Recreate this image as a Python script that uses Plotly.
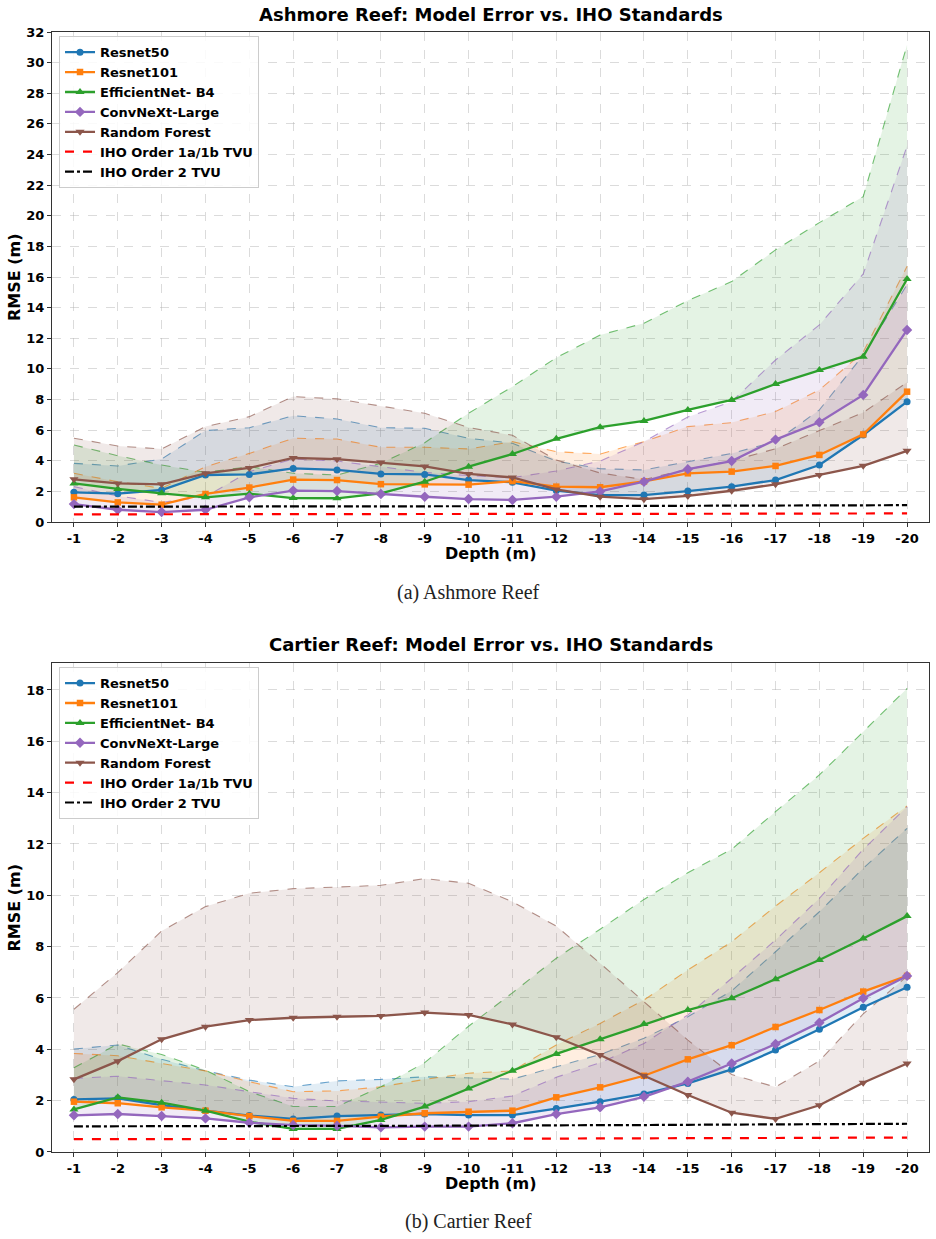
import plotly.graph_objects as go

# ---------------- data ----------------
depths = [-1, -2, -3, -4, -5, -6, -7, -8, -9, -10,
          -11, -12, -13, -14, -15, -16, -17, -18, -19, -20]
depth_labels = ["-1", "-2", "-3", "-4", "-5", "-6", "-7", "-8", "-9", "-10",
                "-11", "-12", "-13", "-14", "-15", "-16", "-17", "-18", "-19", "-20"]

models = ["Resnet50", "Resnet101", "EfficientNet- B4", "ConvNeXt-Large", "Random Forest"]

# Ashmore Reef (RMSE and upper bound of shaded band)
ash_resnet50 = [1.94, 1.85, 2.09, 3.07, 3.11, 3.50, 3.40, 3.14, 3.11, 2.74, 2.59, 2.05, 1.76, 1.76, 2.02, 2.31, 2.74, 3.72, 5.68, 7.86]
ash_resnet50_up = [3.83, 3.66, 4.11, 5.97, 6.16, 6.94, 6.73, 6.16, 6.12, 5.47, 5.14, 3.98, 3.48, 3.40, 3.94, 4.48, 5.25, 7.32, 10.9, 15.5]
ash_resnet101 = [1.61, 1.28, 1.13, 1.83, 2.25, 2.77, 2.74, 2.47, 2.46, 2.44, 2.67, 2.31, 2.27, 2.65, 3.18, 3.29, 3.66, 4.38, 5.72, 8.51]
ash_resnet101_up = [3.18, 2.63, 2.20, 3.61, 4.48, 5.47, 5.42, 4.88, 4.88, 4.77, 5.25, 4.59, 4.44, 5.25, 6.23, 6.49, 7.21, 8.62, 11.1, 16.7]
ash_effnet = [2.52, 2.16, 1.87, 1.61, 1.85, 1.56, 1.55, 1.87, 2.63, 3.61, 4.44, 5.43, 6.19, 6.60, 7.32, 7.97, 9.01, 9.93, 10.80, 15.87]
ash_effnet_up = [5.03, 4.33, 3.72, 3.24, 3.61, 3.18, 3.07, 3.83, 5.18, 7.10, 8.84, 10.73, 12.21, 12.98, 14.46, 15.70, 17.77, 19.55, 21.25, 31.16]
ash_convnext = [1.17, 0.80, 0.65, 0.80, 1.61, 2.05, 2.02, 1.83, 1.65, 1.50, 1.44, 1.65, 2.00, 2.63, 3.45, 3.98, 5.38, 6.51, 8.30, 12.54]
ash_convnext_up = [2.31, 1.70, 1.28, 1.65, 3.29, 4.11, 3.98, 3.61, 3.24, 3.03, 2.90, 3.33, 3.98, 5.25, 6.86, 7.86, 10.58, 12.87, 16.2, 24.56]
ash_rf = [2.79, 2.52, 2.46, 3.18, 3.53, 4.18, 4.10, 3.88, 3.63, 3.14, 2.91, 2.13, 1.65, 1.49, 1.70, 2.04, 2.46, 3.07, 3.67, 4.65]
ash_rf_up = [5.47, 4.96, 4.77, 6.23, 6.88, 8.19, 8.04, 7.59, 7.10, 6.17, 5.66, 4.05, 3.20, 2.77, 3.45, 4.00, 4.78, 5.97, 7.15, 9.12]

# Cartier Reef
car_resnet50 = [2.05, 2.09, 1.83, 1.61, 1.42, 1.29, 1.40, 1.44, 1.48, 1.44, 1.44, 1.69, 1.96, 2.26, 2.67, 3.22, 3.97, 4.78, 5.64, 6.42]
car_resnet50_up = [4.01, 4.17, 3.61, 3.16, 2.80, 2.54, 2.77, 2.83, 2.93, 2.89, 2.84, 3.32, 3.80, 4.43, 5.27, 6.28, 7.80, 9.36, 11.05, 12.61]
car_resnet101 = [1.96, 1.90, 1.74, 1.61, 1.40, 1.21, 1.21, 1.38, 1.51, 1.57, 1.61, 2.13, 2.52, 2.97, 3.61, 4.16, 4.87, 5.53, 6.25, 6.86]
car_resnet101_up = [3.84, 3.75, 3.45, 3.16, 2.74, 2.35, 2.38, 2.54, 2.83, 3.07, 3.16, 4.17, 5.01, 5.92, 7.09, 8.19, 9.58, 10.88, 12.22, 13.48]
car_effnet = [1.66, 2.13, 1.92, 1.61, 1.18, 0.90, 0.90, 1.25, 1.77, 2.47, 3.17, 3.82, 4.39, 4.99, 5.53, 5.99, 6.73, 7.48, 8.32, 9.19]
car_effnet_up = [3.28, 4.21, 3.80, 3.19, 2.35, 1.77, 1.77, 2.54, 3.48, 4.90, 6.20, 7.55, 8.68, 9.84, 10.88, 11.79, 13.26, 14.69, 16.37, 18.06]
car_convnext = [1.43, 1.48, 1.40, 1.31, 1.14, 1.05, 1.02, 0.96, 0.99, 0.99, 1.12, 1.48, 1.74, 2.15, 2.74, 3.45, 4.21, 5.04, 5.99, 6.86]
car_convnext_up = [2.87, 2.95, 2.78, 2.61, 2.35, 2.09, 1.99, 1.94, 1.90, 1.96, 2.18, 2.91, 3.48, 4.23, 5.34, 6.77, 8.26, 9.88, 11.79, 13.45]
car_rf = [2.83, 3.54, 4.39, 4.88, 5.14, 5.23, 5.27, 5.30, 5.43, 5.34, 4.97, 4.47, 3.78, 2.97, 2.22, 1.53, 1.29, 1.82, 2.70, 3.45]
car_rf_up = [5.56, 6.99, 8.61, 9.56, 10.08, 10.26, 10.32, 10.39, 10.65, 10.47, 9.75, 8.80, 7.35, 5.86, 4.36, 3.02, 2.53, 3.55, 5.38, 6.85]

# IHO total vertical uncertainty thresholds
iho_order1 = [0.50, 0.50, 0.50, 0.50, 0.50, 0.51, 0.51, 0.51, 0.51, 0.52,
              0.52, 0.52, 0.53, 0.53, 0.54, 0.54, 0.55, 0.55, 0.56, 0.56]
iho_order2 = [1.00, 1.00, 1.00, 1.00, 1.01, 1.01, 1.01, 1.02, 1.02, 1.03,
              1.03, 1.04, 1.04, 1.05, 1.06, 1.07, 1.07, 1.08, 1.09, 1.10]

# ---------------- styles ----------------
colors = [(31, 119, 180), (255, 127, 14), (44, 160, 44), (148, 103, 189), (140, 86, 75)]
symbols = ["circle", "square", "triangle-up", "diamond", "triangle-down"]
msizes = [7, 6.5, 8, 8, 8]

FONT = "DejaVu Sans"


def rgba(c, a):
    return "rgba(%d,%d,%d,%.3f)" % (c[0], c[1], c[2], a)


fig = go.Figure()


def add_panel(xa, ya, legend, means, ups):
    # shaded bands (line -> upper bound) with dashed upper edge
    for i in range(len(models)):
        fig.add_trace(go.Scatter(x=depths, y=means[i], mode="lines",
                                 line=dict(width=0, color=rgba(colors[i], 0)),
                                 showlegend=False, hoverinfo="skip", legend=legend,
                                 xaxis=xa, yaxis=ya))
        fig.add_trace(go.Scatter(x=depths, y=ups[i], mode="lines",
                                 line=dict(width=1.1, color=rgba(colors[i], 0.65), dash="dash"),
                                 fill="tonexty", fillcolor=rgba(colors[i], 0.13),
                                 showlegend=False, hoverinfo="skip", legend=legend,
                                 xaxis=xa, yaxis=ya))
    for i in range(len(models)):
        fig.add_trace(go.Scatter(x=depths, y=means[i], mode="lines+markers", name=models[i],
                                 line=dict(width=2.3, color=rgba(colors[i], 1)),
                                 marker=dict(symbol=symbols[i], size=msizes[i], color=rgba(colors[i], 1)),
                                 legend=legend, xaxis=xa, yaxis=ya))
    fig.add_trace(go.Scatter(x=depths, y=iho_order1, mode="lines", name="IHO Order 1a/1b TVU",
                             line=dict(width=2.2, color="#ff0000", dash="dash"),
                             legend=legend, xaxis=xa, yaxis=ya))
    fig.add_trace(go.Scatter(x=depths, y=iho_order2, mode="lines", name="IHO Order 2 TVU",
                             line=dict(width=2.2, color="black", dash="dashdot"),
                             legend=legend, xaxis=xa, yaxis=ya))


add_panel("x", "y", "legend",
          [ash_resnet50, ash_resnet101, ash_effnet, ash_convnext, ash_rf],
          [ash_resnet50_up, ash_resnet101_up, ash_effnet_up, ash_convnext_up, ash_rf_up])
add_panel("x2", "y2", "legend2",
          [car_resnet50, car_resnet101, car_effnet, car_convnext, car_rf],
          [car_resnet50_up, car_resnet101_up, car_effnet_up, car_convnext_up, car_rf_up])

tickfont = dict(family=FONT, size=13, color="black", weight="bold")
xcommon = dict(range=[-0.5, -20.5], tickmode="array", tickvals=depths, ticktext=depth_labels,
               showgrid=True, gridcolor="rgba(176,176,176,0.45)", griddash="dash", gridwidth=1,
               showline=True, mirror=True, linecolor="#333", linewidth=1.2,
               ticks="outside", ticklen=4, tickcolor="#333", tickfont=tickfont, zeroline=False)
ycommon = dict(showgrid=True, gridcolor="rgba(176,176,176,0.45)", griddash="dash", gridwidth=1,
               showline=True, mirror=True, linecolor="#333", linewidth=1.2,
               ticks="outside", ticklen=4, tickcolor="#333", tickfont=tickfont, zeroline=False,
               dtick=2, tick0=0)

legend_common = dict(xanchor="left", yanchor="top", bgcolor="rgba(255,255,255,0.85)",
                     bordercolor="#cccccc", borderwidth=1, traceorder="normal",
                     font=dict(family=FONT, size=13, color="black", weight="bold"),
                     tracegroupgap=0, itemwidth=30)

fig.update_layout(
    width=936, height=1239,
    margin=dict(l=52, r=7, t=32, b=87),
    paper_bgcolor="white", plot_bgcolor="white",
    xaxis=dict(domain=[0, 1], anchor="y", **xcommon),
    yaxis=dict(domain=[0.5625, 1.0], anchor="x", range=[0, 32], **ycommon),
    xaxis2=dict(domain=[0, 1], anchor="y2", **xcommon),
    yaxis2=dict(domain=[0, 0.4366], anchor="x2", range=[0, 19.05], **ycommon),
    legend=dict(x=0.008, y=0.9962, **legend_common),
    legend2=dict(x=0.008, y=0.4329, **legend_common),
    showlegend=True,
)


def py(ypix):
    return (1152 - ypix) / 1120.0


def px(xpix):
    return (xpix - 52) / 877.0


ann = []
titles = [("Ashmore Reef: Model Error vs. IHO Standards", 14),
          ("Cartier Reef: Model Error vs. IHO Standards", 645)]
for t, yp in titles:
    ann.append(dict(text="<b>%s</b>" % t, x=px(490.5), y=py(yp), xref="paper", yref="paper",
                    xanchor="center", yanchor="middle", showarrow=False,
                    font=dict(family=FONT, size=18, color="black")))
for yp in (553, 1183):
    ann.append(dict(text="<b>Depth (m)</b>", x=px(490.5), y=py(yp), xref="paper", yref="paper",
                    xanchor="center", yanchor="middle", showarrow=False,
                    font=dict(family=FONT, size=16, color="black")))
for yp in (277, 907.5):
    ann.append(dict(text="<b>RMSE (m)</b>", x=px(14), y=py(yp), xref="paper", yref="paper",
                    xanchor="center", yanchor="middle", showarrow=False, textangle=-90,
                    font=dict(family=FONT, size=16, color="black")))
for t, yp in (("(a) Ashmore Reef", 592), ("(b) Cartier Reef", 1221)):
    ann.append(dict(text=t, x=px(468), y=py(yp), xref="paper", yref="paper",
                    xanchor="center", yanchor="middle", showarrow=False,
                    font=dict(family="Liberation Serif", size=20, color="#222")))
fig.update_layout(annotations=ann)

fig.write_html("out.html")
